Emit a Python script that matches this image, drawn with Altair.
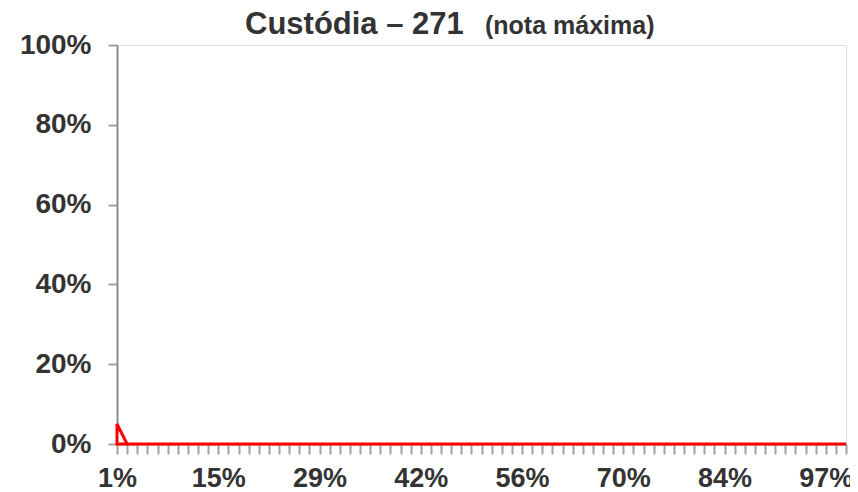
import altair as alt
import pandas as pd

# Category labels (percentile positions) as shown on the x axis
categories = ["1%", "3%", "4%", "5%", "7%", "8%", "10%", "11%", "12%", "14%",
              "15%", "16%", "18%", "19%", "21%", "22%", "23%", "25%", "26%", "27%",
              "29%", "30%", "32%", "33%", "34%", "36%", "37%", "38%", "40%", "41%",
              "42%", "44%", "45%", "47%", "48%", "49%", "51%", "52%", "53%", "55%",
              "56%", "58%", "59%", "60%", "62%", "63%", "64%", "66%", "67%", "68%",
              "70%", "71%", "73%", "74%", "75%", "77%", "78%", "79%", "81%", "82%",
              "84%", "85%", "86%", "88%", "89%", "90%", "92%", "93%", "95%", "96%",
              "97%", "99%", "100%"]

# Share of students with the maximum grade
values = [0.05, 0, 0, 0, 0, 0, 0, 0, 0, 0,
          0, 0, 0, 0, 0, 0, 0, 0, 0, 0,
          0, 0, 0, 0, 0, 0, 0, 0, 0, 0,
          0, 0, 0, 0, 0, 0, 0, 0, 0, 0,
          0, 0, 0, 0, 0, 0, 0, 0, 0, 0,
          0, 0, 0, 0, 0, 0, 0, 0, 0, 0,
          0, 0, 0, 0, 0, 0, 0, 0, 0, 0,
          0, 0, 0]

shown_labels = ["1%", "15%", "29%", "42%", "56%", "70%", "84%", "97%"]
y_ticks = [0, 0.2, 0.4, 0.6, 0.8, 1.0]

title_main = "Custódia – 271"
title_sub = "(nota máxima)"

df = pd.DataFrame({"cat": categories, "val": values})

FONT = "Liberation Sans"
TXT = "#333333"
AX = "#8c8c8c"
TICK = "#a0a0a0"

label_list = "[" + ",".join("'" + s + "'" for s in shown_labels) + "]"
NBSP = "\u00a0"

area = alt.Chart(df).mark_area(
    fill="white", stroke="#ff0000", strokeWidth=3, strokeJoin="miter"
).encode(
    x=alt.X("cat:O", sort=categories, scale=alt.Scale(type="point", padding=0),
            axis=alt.Axis(title=None, labelAngle=0, labelOverlap=False,
                          labelExpr="indexof(" + label_list + ", datum.value) >= 0 ? datum.value + '" + NBSP + "' : ''",
                          tickSize=10, tickColor=TICK, tickWidth=2, domainColor=AX, domainWidth=2,
                          labelFont=FONT, labelFontSize=27, labelFontWeight="bold",
                          labelColor=TXT, labelPadding=11)),
    y=alt.Y("val:Q", scale=alt.Scale(domain=[0, 1], nice=False),
            axis=alt.Axis(title=None, values=y_ticks, format=".0%", grid=False,
                          tickSize=9, tickColor=TICK, tickWidth=2, domainColor=AX, domainWidth=2,
                          labelFont=FONT, labelFontSize=28, labelFontWeight="bold",
                          labelColor=TXT, labelPadding=17)),
)

t1 = alt.Chart(pd.DataFrame({"t": [title_main]})).mark_text(
    align="left", baseline="alphabetic", font=FONT, fontSize=31, fontWeight="bold", color=TXT
).encode(text="t:N", x=alt.value(128), y=alt.value(-11))

t2 = alt.Chart(pd.DataFrame({"t": [title_sub]})).mark_text(
    align="left", baseline="alphabetic", font=FONT, fontSize=25, fontWeight="bold", color=TXT
).encode(text="t:N", x=alt.value(368), y=alt.value(-11))

chart = alt.layer(area, t1, t2).properties(
    width=729, height=399,
    autosize=alt.AutoSizeParams(type="none"),
    padding={"left": 109, "top": 37, "right": 4, "bottom": 48},
).configure_view(stroke=AX, strokeWidth=2).configure(background="white")

chart.save("out.html", embed_options={"renderer": "svg", "actions": False})
